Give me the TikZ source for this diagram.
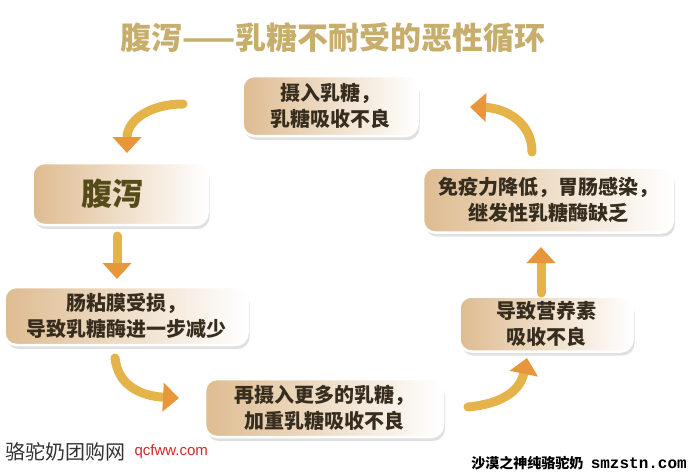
\documentclass[tikz,border=0pt]{standalone}
\definecolor{cyc_tan}{RGB}{222, 188, 145}
\definecolor{cyc_text}{RGB}{55, 45, 30}
\definecolor{cyc_olive}{RGB}{85, 75, 25}
\definecolor{cyc_title}{RGB}{200, 174, 108}
\definecolor{cyc_gold}{RGB}{228, 180, 75}
\definecolor{cyc_head}{RGB}{232, 150, 60}
\definecolor{cyc_red}{RGB}{215, 40, 40}
\usepackage{fontspec}
\setmainfont{Noto Sans CJK SC}
\newfontfamily\monofont{Liberation Mono}
\newfontfamily\latinfont{Liberation Sans}
\usepackage{tikz}
\usetikzlibrary{arrows.meta, positioning, shadows}

\begin{document}
\begin{tikzpicture}[x=1pt, y=-1pt,
    cyclebox/.style={rounded corners=12pt, draw=white, line width=2.5pt,
      left color=cyc_tan, right color=white, middle color=cyc_tan!50,
      drop shadow={shadow xshift=2pt, shadow yshift=-4pt, fill=black!40, opacity=0.3},
      align=center, text=cyc_text, inner sep=0pt,
      font=\bfseries\fontsize{20}{26}\selectfont},
    cyclearrow/.style={line width=9pt, draw=cyc_gold, line cap=round,
      -{Triangle[width=28pt, length=16pt, color=cyc_head]}}]
  \useasboundingbox[fill=white] (0,0) rectangle (688,472);

  % Titre
  \node[font=\bfseries\fontsize{31}{31}\selectfont, text=cyc_title] (title) at (333,38)
    {腹泻——乳糖不耐受的恶性循环};

  % Cases du cycle
  \node[cyclebox, minimum width=175pt, minimum height=60pt] (intake) at (330,106)
    {摄入乳糖，\\乳糖吸收不良};
  \node[cyclebox, minimum width=175pt, minimum height=62pt, text=cyc_olive,
    font=\bfseries\fontsize{31}{31}\selectfont] (diarrhea) at (120,194) {\hspace*{-16pt}腹泻};
  \node[cyclebox, minimum width=243pt, minimum height=58pt] (mucosa) at (126,316)
    {肠粘膜受损，\\导致乳糖酶进一步减少};
  \node[cyclebox, minimum width=238pt, minimum height=58pt] (moreintake) at (324,408)
    {再摄入更多的乳糖，\\加重乳糖吸收不良};
  \node[cyclebox, minimum width=173pt, minimum height=55pt] (nutrient) at (546,324)
    {导致营养素\\吸收不良};
  \node[cyclebox, minimum width=250pt, minimum height=65pt] (immune) at (548,200)
    {免疫力降低，胃肠感染，\\继发性乳糖酶缺乏};

  % Flèches
  \coordinate (a1s) at (183,104);
  \coordinate (a1e) at (127,153);
  \coordinate (a2s) at (117,236);
  \coordinate (a2e) at (117,279);
  \coordinate (a3s) at (115,358);
  \coordinate (a3e) at (179,398);
  \coordinate (a4s) at (468,407);
  \coordinate (a4e) at (527,358);
  \coordinate (a5s) at (541,293);
  \coordinate (a5e) at (541,247);
  \coordinate (a6s) at (532,152);
  \coordinate (a6e) at (470,107);
  \draw[cyclearrow] (a1s) .. controls (150,104) and (127,120) .. (a1e);
  \draw[cyclearrow] (a2s) -- (a2e);
  \draw[cyclearrow] (a3s) .. controls (118,385) and (140,396) .. (a3e);
  \draw[cyclearrow] (a4s) .. controls (500,404) and (520,392) .. (a4e);
  \draw[cyclearrow] (a5s) -- (a5e);
  \draw[cyclearrow] (a6s) .. controls (532,122) and (505,108) .. (a6e);

  % Filigranes
  \node[anchor=west, inner sep=0pt, text=black!80, font=\fontsize{20}{20}\selectfont]
    (wmleft) at (5,452) {骆驼奶团购网};
  \node[right=9pt of wmleft, inner sep=0pt, text=cyc_red, font=\latinfont\fontsize{15}{15}\selectfont]
    (wmleftweb) {qcfww.com};
  \node[anchor=east, inner sep=0pt, font=\monofont\bfseries\fontsize{16}{16}\selectfont]
    (wmrightweb) at (687,463) {smzstn.com};
  \node[left=7pt of wmrightweb, inner sep=0pt, font=\bfseries\fontsize{14}{14}\selectfont]
    (wmright) {沙漠之神纯骆驼奶};
\end{tikzpicture}
\end{document}
